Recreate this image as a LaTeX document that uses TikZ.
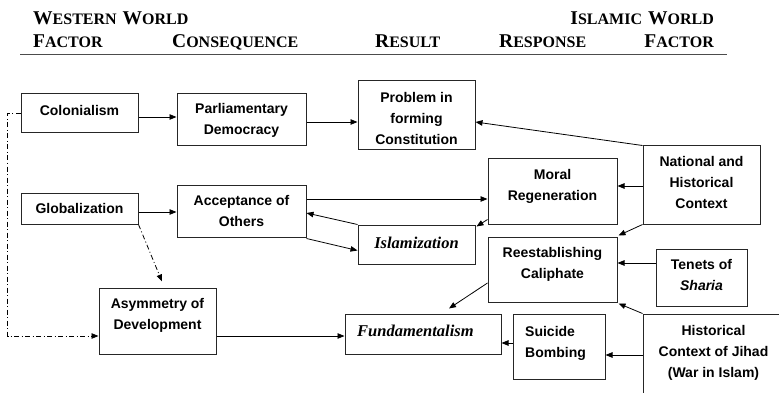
\documentclass[tikz,border=0pt]{standalone}
\usepackage{fontspec}
\setmainfont{Liberation Sans}
\newfontfamily\hd{Liberation Serif}
\usetikzlibrary{arrows.meta,calc}
\newcommand\HS[2]{{\fontsize{19.5}{20}\selectfont #1}{\fontsize{16}{20}\selectfont #2}}
\tikzset{
  box/.style 2 args={draw=black!85, line width=1pt, minimum width=#1pt, minimum height=#2pt, inner sep=0pt},
  tx/.style={font=\bfseries\fontsize{14}{21}\selectfont, align=center, inner sep=0pt, anchor=north},
  tl/.style={tx, align=left, anchor=north west},
  hdr/.style={font=\hd\bfseries, inner sep=0pt},
  arr/.style={-{Triangle[length=7pt,width=5.5pt]}, line width=0.8pt},
  dd/.style={arr, dash pattern=on 5pt off 2.5pt on 1pt off 2.5pt},
  it/.style={font=\hd\bfseries\itshape\fontsize{16.5}{20}\selectfont}
}
\begin{document}
\begin{tikzpicture}[x=1pt,y=-1pt]
\useasboundingbox (0,0) rectangle (779,393);
% header
\node[hdr, anchor=base west] (h1) at (33,25) {\HS{W}{ESTERN}\hspace{6pt}\HS{W}{ORLD}};
\node[hdr, anchor=base east] (h2) at (714,25) {\HS{I}{SLAMIC}\hspace{6pt}\HS{W}{ORLD}};
\node[hdr, anchor=base west] (h3) at (33,48) {\HS{F}{ACTOR}};
\node[hdr, anchor=base west] (h4) at (172,48) {\HS{C}{ONSEQUENCE}};
\node[hdr, anchor=base west] (h5) at (375,48) {\HS{R}{ESULT}};
\node[hdr, anchor=base west] (h6) at (499,48) {\HS{R}{ESPONSE}};
\node[hdr, anchor=base east] (h7) at (714,48) {\HS{F}{ACTOR}};
\coordinate (l1) at (20,54.5);
\coordinate (l2) at (727,54.5);
\draw[line width=1.8pt, black!70] (l1) -- (l2);
% boxes
\node[box={117}{39}] (col) at (79.5,113.5) {};
\node[box={129}{52}] (pd) at (241.5,120) {};
\node[box={117}{69}] (prob) at (416.5,115.5) {};
\node[box={117}{31}] (glob) at (79.5,208.5) {};
\node[box={129}{52}] (acc) at (241.5,211) {};
\node[box={129}{65}] (moral) at (552.5,191.5) {};
\node[box={117}{78}] (nat) at (701.5,185) {};
\node[box={117}{39}] (islam) at (416.5,244.5) {};
\node[box={129}{65}] (reest) at (552.5,269.5) {};
\node[box={91}{57}] (tenets) at (701.5,277.5) {};
\node[box={177}{106}] (hist) at (731.5,367) {};
\node[box={92}{65}] (sui) at (559,346.5) {};
\node[box={156}{40}] (fund) at (423,334) {};
\node[box={117}{66}] (asym) at (157.5,321) {};
% texts
\node[tx] (col-t) at (79.5,105) {Colonialism};
\node[tx] (pd-t) at (241.5,103) {Parliamentary\\Democracy};
\node[tx] (prob-t) at (416.5,92) {Problem in\\forming\\Constitution};
\node[tx] (glob-t) at (79.5,203) {Globalization};
\node[tx] (acc-t) at (241.5,195) {Acceptance of\\Others};
\node[tx] (moral-t) at (552.5,169) {Moral\\Regeneration};
\node[tx] (nat-t) at (701.5,156) {National and\\Historical\\Context};
\node[tx, it] (islam-t) at (416.5,236.5) {Islamization};
\node[tx] (reest-t) at (552.5,247) {Reestablishing\\Caliphate};
\node[tx] (tenets-t) at (701.5,259) {Tenets of\\\textit{Sharia}};
\node[tx] (hist-t) at (713.5,325) {Historical\\Context of Jihad\\(War in Islam)};
\node[tl] (sui-t) at (525,326) {Suicide\\Bombing};
\node[tl, it] (fund-t) at (357,324.5) {Fundamentalism};
\node[tx] (asym-t) at (157.5,298) {Asymmetry of\\Development};
% connectors
\draw[arr] ($(col.east)+(0,3.5)$) coordinate (a1) -- (a1 -| pd.west);
\draw[arr] ($(pd.east)+(0,2)$) coordinate (a2) -- (a2 -| prob.west);
\draw[arr] (nat.north west) -- ($(prob.east)+(0,6.5)$);
\draw[arr] ($(glob.east)+(0,3.5)$) coordinate (a4) -- (a4 -| acc.west);
\draw[arr] ($(acc.east)+(0,-12)$) coordinate (a5) -- (a5 -| moral.west);
\draw[arr] ($(nat.west)+(0,1)$) coordinate (a6) -- (a6 -| moral.east);
\draw[arr] ($(moral.south west)+(0,-5)$) -- ($(islam.north east)+(1,2)$);
\draw[arr] (islam.north west) -- ($(acc.east)+(0,2)$);
\draw[arr] ($(acc.south east)+(0,1)$) -- ($(islam.west)+(0,6)$);
\draw[arr] (nat.south west) -- ($(reest.north east)+(1,-1)$);
\draw[arr] ($(tenets.west)+(0,-14.5)$) coordinate (a11) -- (a11 -| reest.east);
\draw[arr] (hist.north west) -- ($(reest.south east)+(1,1)$);
\coordinate (fend) at ($(fund.north)+(26,-5)$);
\draw[arr] ($(reest.west)+(0,13.5)$) -- (fend);
\draw[arr] ($(sui.west)+(0,-3.5)$) coordinate (a14) -- (a14 -| fund.east);
\draw[arr] ($(hist.west)+(0,-12)$) coordinate (a15) -- (a15 -| sui.east);
\draw[arr] ($(asym.east)+(0,15)$) coordinate (a16) -- (a16 -| fund.west);
\draw[dd] (glob.south east) -- ($(asym.north)+(4.5,-6)$);
\draw[dd] (col.west) -- ++(-13,0) |- ($(asym.west)+(0,15)$);
\end{tikzpicture}
\end{document}
